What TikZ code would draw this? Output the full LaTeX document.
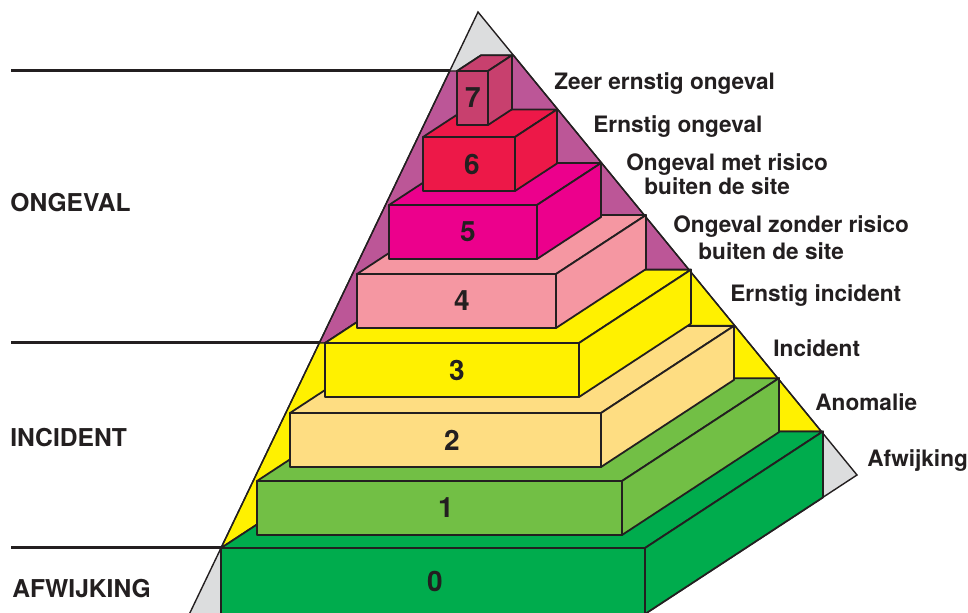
\documentclass[tikz,border=0pt]{standalone}
\usepackage{fontspec}
\setmainfont{TeX Gyre Heros}
\definecolor{txtdark}{HTML}{231F20}
\definecolor{pyrgray}{HTML}{DCDDDE}
\definecolor{bandpurple}{HTML}{BC5697}
\definecolor{bandyellow}{HTML}{FFF100}
\definecolor{lvl0}{HTML}{00AC4D}
\definecolor{lvl1}{HTML}{72BF45}
\definecolor{lvl2}{HTML}{FEDD82}
\definecolor{lvl3}{HTML}{FFF100}
\definecolor{lvl4}{HTML}{F597A2}
\definecolor{lvl5}{HTML}{EC008C}
\definecolor{lvl6}{HTML}{ED1848}
\definecolor{lvl7}{HTML}{C8406E}

\begin{document}
\begin{tikzpicture}[x=0.5pt, y=-0.5pt,
    edge/.style={draw=txtdark, line width=0.7pt},
    blok/.style={draw=txtdark, line width=0.9pt, line join=round},
    sep/.style={draw=txtdark, line width=1.5pt},
    lbl/.style={font=\fontsize{11.3}{13}\selectfont\bfseries, text=txtdark, anchor=base west, inner sep=0pt},
    grp/.style={font=\fontsize{12.3}{14}\selectfont\bfseries, text=txtdark, anchor=base west, inner sep=0pt},
    num/.style={font=\fontsize{14}{16}\selectfont\bfseries, text=txtdark, inner sep=0pt}]
    \useasboundingbox (0,0) rectangle (968,613);
    \clip (0,0) rectangle (968,613);
    % Pyramid outline
    \coordinate (apex) at (478,12);
    \coordinate (rc) at (857,475);
    \coordinate (bl) at (176.9,640);
    \coordinate (br) at (605.2,640);
    \fill[pyrgray] (bl) -- (apex) -- (rc) -- (br) -- cycle;
    % Bands
    \filldraw[edge, fill=bandpurple] (449.7,71) -- (457,71) -- (481,55.3) -- (513.4,55.3)
        -- (689.2,270) -- (437,269.6) -- (325,343) -- (319.3,343) -- cycle;
    \filldraw[edge, fill=bandyellow] (319.3,343) -- (325,343) -- (437,269.6) -- (689.2,270)
        -- (821.3,431.4) -- (399,431.4) -- (221,548) -- cycle;
    \draw[edge] (bl) -- (apex) -- (rc) -- (br);
    % Levels
    \foreach \i/\L/\T/\W/\H/\D/\nx/\c in {0/221/548/424/66/178/435/lvl0,
        1/257/481/365/54/157/446/lvl1, 2/290/413/311/54/133/452/lvl2,
        3/325/343/254/54/112/457/lvl3, 4/357/274/199/54/90/462/lvl4,
        5/389/205/148/54/64/468/lvl5, 6/423/137/92/54/42/472/lvl6,
        7/457/71/31/54/24/473/lvl7}{
        \pgfmathsetmacro\dy{0.655*\D}
        \filldraw[blok, fill=\c] (\L,\T) -- ++(\D,-\dy) -- ++(\W,0) -- ++(-\D,\dy) -- cycle;
        \filldraw[blok, fill=\c] (\L+\W,\T) -- ++(\D,-\dy) -- ++(0,\H) -- ++(-\D,\dy) -- cycle;
        \filldraw[blok, fill=\c] (\L,\T) rectangle ++(\W,\H);
        \node[num] (n\i) at (\nx,\T+\H/2) {\i};
    }
    % Separators
    \coordinate (s1) at (11,71);  \coordinate (e1) at (449.7,71);
    \coordinate (s2) at (11,343); \coordinate (e2) at (319.3,343);
    \coordinate (s3) at (11,548); \coordinate (e3) at (221,548);
    \draw[sep] (s1) -- (e1);
    \draw[sep] (s2) -- (e2);
    \draw[sep] (s3) -- (e3);
    % Group labels
    \node[grp] (ongeval) at (10,212) {ONGEVAL};
    \node[grp] (incident) at (10,447) {INCIDENT};
    \node[grp] (afwijking) at (12,597) {AFWIJKING};
    % Level labels
    \node[lbl] (l7) at (554,90) {Zeer ernstig ongeval};
    \node[lbl] (l6) at (593,133) {Ernstig ongeval};
    \node[lbl] (l5a) at (626,171) {Ongeval met risico};
    \node[lbl] (l5b) at (644,195) {buiten de site};
    \node[lbl] (l4a) at (673,233) {Ongeval zonder risico};
    \node[lbl] (l4b) at (698,260) {buiten de site};
    \node[lbl] (l3) at (730,302) {Ernstig incident};
    \node[lbl] (l2) at (773,357) {Incident};
    \node[lbl] (l1) at (815,411) {Anomalie};
    \node[lbl] (l0) at (867,467) {Afwijking};
\end{tikzpicture}
\end{document}
